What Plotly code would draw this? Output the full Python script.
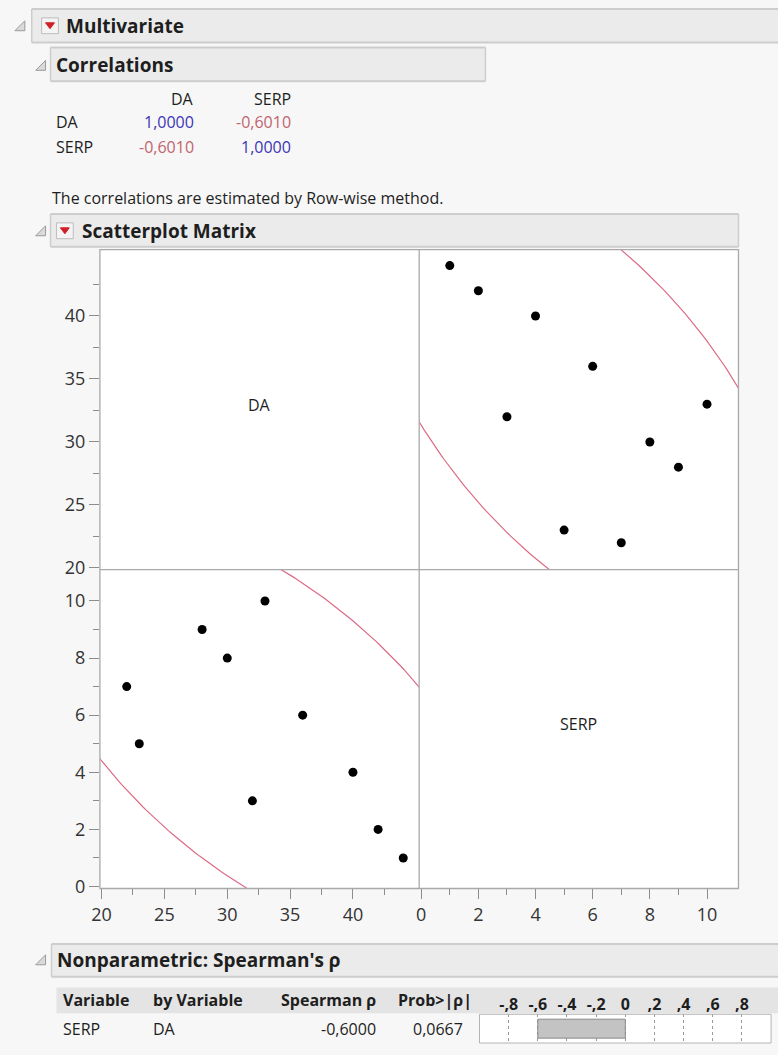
import numpy as np
import plotly.graph_objects as go

W, H = 778, 1055


def X(p):
    return p / W


def Y(p):
    return 1 - p / H


# ---------------- data ----------------
serp = [1, 2, 3, 4, 5, 6, 7, 8, 9, 10]
da = [44, 42, 32, 40, 23, 36, 22, 30, 28, 33]
var_names = ["DA", "SERP"]
corr_matrix = [[1.0000, -0.6010], [-0.6010, 1.0000]]
spearman_var = ["SERP"]
spearman_by = ["DA"]
spearman_rho = [-0.6000]
spearman_p = [0.0667]
bar_ticks = [-0.8, -0.6, -0.4, -0.2, 0, 0.2, 0.4, 0.6, 0.8]
bar_ticklabels = ["-,8", "-,6", "-,4", "-,2", "0", ",2", ",4", ",6", ",8"]
da_ticks = [20, 25, 30, 35, 40]
da_minor = [22.5, 27.5, 32.5, 37.5, 42.5]
serp_ticks = [0, 2, 4, 6, 8, 10]
serp_minor = [1, 3, 5, 7, 9]

FONT = "Open Sans"
TXT = "#1e1e1e"
BG = "#f7f7f7"
HDR = "#ebebeb"
HDR_LINE = "#cdcdcd"
BORDER = "#a9a9a9"
ELL = "#dc6b86"
TICKC = "#8c8c8c"


def fmt(v):
    return f"{v:.4f}".replace(".", ",")


def ellipse(xs, ys, p=0.95, n=400):
    xs = np.asarray(xs, float)
    ys = np.asarray(ys, float)
    cov = np.cov(xs, ys)
    c = -2 * np.log(1 - p)
    vals, vecs = np.linalg.eigh(cov)
    t = np.linspace(0, 2 * np.pi, n)
    circ = np.vstack([np.cos(t), np.sin(t)])
    pts = vecs @ (np.sqrt(vals * c)[:, None] * circ)
    return xs.mean() + pts[0], ys.mean() + pts[1]


fig = go.Figure()

# bottom-left: x=DA, y=SERP
ex, ey = ellipse(da, serp)
fig.add_trace(go.Scatter(x=ex, y=ey, mode="lines", line=dict(color=ELL, width=1.2),
                         xaxis="x", yaxis="y", hoverinfo="skip", showlegend=False))
fig.add_trace(go.Scatter(x=da, y=serp, mode="markers", marker=dict(color="black", size=9),
                         xaxis="x", yaxis="y", showlegend=False))
# top-right: x=SERP, y=DA
ex2, ey2 = ellipse(serp, da)
fig.add_trace(go.Scatter(x=ex2, y=ey2, mode="lines", line=dict(color=ELL, width=1.2),
                         xaxis="x2", yaxis="y2", hoverinfo="skip", showlegend=False))
fig.add_trace(go.Scatter(x=serp, y=da, mode="markers", marker=dict(color="black", size=9),
                         xaxis="x2", yaxis="y2", showlegend=False))
# Spearman bar
fig.add_trace(go.Bar(x=spearman_rho, y=[0], orientation="h", width=0.66,
                     marker=dict(color="#c3c3c3", line=dict(color="#8a8a8a", width=1)),
                     xaxis="x3", yaxis="y3", showlegend=False))

tickfont = dict(family=FONT, size=18, color="#333333")
DA_RANGE = [19.87, 45.27]
SERP_RANGE = [-0.07, 11.1]

common = dict(showgrid=False, zeroline=False, showline=False, ticks="outside",
              tickcolor=TICKC, tickfont=tickfont, fixedrange=True, ticklen=10)
minor_da = dict(tickvals=da_minor, ticklen=6, ticks="outside", tickcolor=TICKC)
minor_serp = dict(tickvals=serp_minor, ticklen=6, ticks="outside", tickcolor=TICKC)

fig.update_layout(
    width=W, height=H,
    margin=dict(l=0, r=0, t=0, b=0),
    paper_bgcolor=BG, plot_bgcolor="white",
    xaxis=dict(domain=[X(92), X(415)], range=DA_RANGE, anchor="y",
               tickvals=da_ticks, minor=minor_da, **common),
    yaxis=dict(domain=[Y(897), Y(575)], range=SERP_RANGE, anchor="x",
               tickvals=serp_ticks, minor=minor_serp, **common),
    xaxis2=dict(domain=[X(415), X(738)], range=SERP_RANGE, anchor="y",
                tickvals=serp_ticks, minor=minor_serp, **common),
    yaxis2=dict(domain=[Y(575), Y(252)], range=DA_RANGE, anchor="x",
                tickvals=da_ticks, minor=minor_da, **common),
    xaxis3=dict(domain=[X(476), X(771)], range=[-1, 1], anchor="y3", side="top",
                tickvals=bar_ticks, ticktext=bar_ticklabels, ticks="",
                tickfont=dict(family=FONT, size=16, color=TXT, weight="bold"),
                showgrid=True, griddash="dot", gridcolor="#9a9a9a", gridwidth=1,
                zeroline=False, showline=False, fixedrange=True, layer="below traces"),
    yaxis3=dict(domain=[Y(1053), Y(1024)], range=[-0.5, 0.5], anchor="x3",
                visible=False, fixedrange=True),
    bargap=0,
)

shapes = []
annotations = []


def rect(x0, y0, x1, y1, fill, line=None, width=1, layer="below"):
    shapes.append(dict(type="rect", xref="paper", yref="paper",
                       x0=X(x0), x1=X(x1), y0=Y(y1), y1=Y(y0),
                       fillcolor=fill, line=dict(color=line or fill, width=width if line else 0),
                       layer=layer))


def hline(x0, x1, y, color, width=1, layer="below"):
    shapes.append(dict(type="line", xref="paper", yref="paper", x0=X(x0), x1=X(x1),
                       y0=Y(y), y1=Y(y), line=dict(color=color, width=width), layer=layer))


def vline(x, y0, y1, color, width=1, layer="below"):
    shapes.append(dict(type="line", xref="paper", yref="paper", x0=X(x), x1=X(x),
                       y0=Y(y0), y1=Y(y1), line=dict(color=color, width=width), layer=layer))


def text(x, y, s, size=16, bold=False, color=TXT, anchor="left"):
    annotations.append(dict(xref="paper", yref="paper", x=X(x), y=Y(y), text=s,
                            showarrow=False, xanchor=anchor, yanchor="middle",
                            font=dict(family=FONT, size=size, color=color,
                                      weight="bold" if bold else "normal")))


def disclosure(x, y):
    path = f"M {X(x)} {Y(y + 5)} L {X(x + 10)} {Y(y + 5)} L {X(x + 10)} {Y(y - 5)} Z"
    shapes.append(dict(type="path", xref="paper", yref="paper", path=path,
                       fillcolor="#dadada", line=dict(color="#9a9a9a", width=1), layer="above"))


def red_menu(x, y):
    shapes.append(dict(type="rect", xref="paper", yref="paper",
                       x0=X(x), x1=X(x + 17), y0=Y(y + 8), y1=Y(y - 8),
                       fillcolor="#f4f4f4", line=dict(color="#bdbdbd", width=1), layer="above"))
    path = (f"M {X(x + 4)} {Y(y - 3)} L {X(x + 13)} {Y(y - 3)} "
            f"L {X(x + 8.5)} {Y(y + 3)} Z")
    shapes.append(dict(type="path", xref="paper", yref="paper", path=path,
                       fillcolor="#d21f26", line=dict(color="#d21f26", width=1), layer="above"))


def header(x0, x1, y0, y1):
    rect(x0, y0, x1, y1, HDR)
    hline(x0, x1, y0, HDR_LINE, 2)
    hline(x0, x1, y1, HDR_LINE, 2)
    vline(x0, y0, y1, HDR_LINE, 1.5)
    if x1 < W:
        vline(x1, y0, y1, HDR_LINE, 1.5)


# ----- Multivariate header -----
header(23, 779, 9, 43)
disclosure(6, 26)
red_menu(33, 26)
text(56, 26, "Multivariate", size=19, bold=True)

# ----- Correlations -----
header(42, 482, 48, 82)
disclosure(27, 66)
text(46, 66, "Correlations", size=19, bold=True)

col_right = [189, 287]
row_y = [123, 148]
for j, name in enumerate(var_names):
    text(col_right[j], 100, name, size=16, anchor="right")
for i, name in enumerate(var_names):
    text(46, row_y[i], name, size=16)
    for j in range(len(var_names)):
        v = corr_matrix[i][j]
        col = "#3b35b5" if v > 0 else "#c0646f"
        text(col_right[j], row_y[i], fmt(v), size=16, color=col, anchor="right")

text(41, 200, "The correlations are estimated by Row-wise method.", size=16)

# ----- Scatterplot Matrix -----
header(42, 738, 216, 249)
disclosure(27, 233)
red_menu(48, 233)
text(72, 233, "Scatterplot Matrix", size=19, bold=True)

rect(92, 252, 738, 897, "white")
shapes.append(dict(type="rect", xref="paper", yref="paper", x0=X(92), x1=X(738),
                   y0=Y(897), y1=Y(252), line=dict(color=BORDER, width=1.3),
                   fillcolor="rgba(0,0,0,0)", layer="above"))
vline(415, 252, 897, BORDER, 1.3, layer="above")
hline(92, 738, 575, BORDER, 1.3, layer="above")

text(253.5, 409, var_names[0], size=16, anchor="center")
text(576.5, 731, var_names[1], size=16, anchor="center")

# ----- Nonparametric: Spearman's rho -----
header(43, 779, 953, 986)
disclosure(27, 969)
text(47, 969, "Nonparametric: Spearman's ρ", size=19, bold=True)

rect(48, 997, 779, 1023, "#e4e4e4")
hy = 1010
text(53, hy, "Variable", size=16, bold=True)
text(144, hy, "by Variable", size=16, bold=True)
text(373, hy, "Spearman ρ", size=16, bold=True, anchor="right")
text(470, hy, "Prob>|ρ|", size=16, bold=True, anchor="right")

ry = 1039
for k in range(len(spearman_var)):
    text(53, ry, spearman_var[k], size=16)
    text(144, ry, spearman_by[k], size=16)
    text(373, ry, fmt(spearman_rho[k]), size=16, anchor="right")
    text(461, ry, fmt(spearman_p[k]), size=16, anchor="right")

shapes.append(dict(type="rect", xref="paper", yref="paper", x0=X(476), x1=X(771),
                   y0=Y(1053), y1=Y(1024), line=dict(color="#b5b5b5", width=1),
                   fillcolor="rgba(0,0,0,0)", layer="above"))

fig.update_layout(shapes=shapes, annotations=annotations)
fig.write_html(
    "out.html",
    config={"displayModeBar": False, "staticPlot": True},
    post_script="document.body.style.margin='0';document.body.style.overflow='hidden';",
)
